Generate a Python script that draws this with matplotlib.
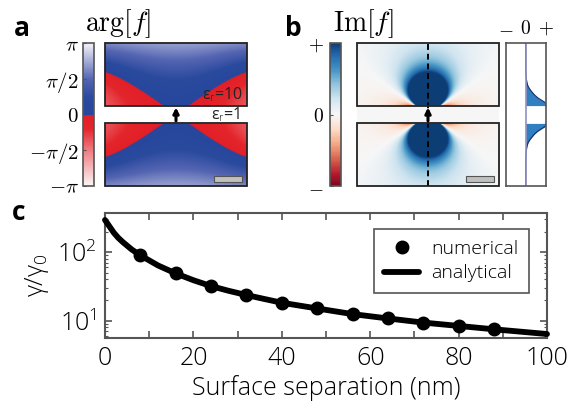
import numpy as np
import matplotlib
matplotlib.use('Agg')
import matplotlib.pyplot as plt
from matplotlib import font_manager
from matplotlib.colors import LinearSegmentedColormap, Normalize
from matplotlib.patches import Rectangle
from matplotlib.ticker import NullFormatter, LogLocator
import matplotlib.cm as cm


def weight_num(w):
    names = {'thin': 100, 'extralight': 200, 'ultralight': 200, 'light': 300,
             'normal': 400, 'regular': 400, 'book': 400}
    return w if isinstance(w, int) else names.get(str(w).lower(), 400)


# pick a sans family that has a light face, if any
light_family = 'Open Sans'
for fam in ['Open Sans', 'Lato', 'Noto Sans', 'Roboto', 'Inter']:
    if any(f.name == fam and 200 <= weight_num(f.weight) <= 300
           for f in font_manager.fontManager.ttflist):
        light_family = fam
        break

plt.rcParams['font.family'] = ['Open Sans', 'DejaVu Sans']
plt.rcParams['mathtext.fontset'] = 'cm'
plt.rcParams['mathtext.rm'] = light_family + ':light'
plt.rcParams['mathtext.it'] = 'Open Sans:italic'
plt.rcParams['mathtext.bf'] = 'Open Sans:bold'

# ---- panel c data ----
sep_num = [8, 16, 24, 32, 40, 48, 56, 64, 72, 80, 88]
gamma_num = [90, 49, 32, 23.7, 18.3, 15.1, 12.5, 10.8, 9.4, 8.4, 7.5]
sep_fit = [0, 1, 2, 3, 4, 6, 8, 12, 16, 20, 24, 28, 32, 36, 40, 48, 56, 64, 72, 80, 88, 100]
gamma_fit = [295, 238, 192, 162, 141, 110, 90, 64, 49, 39, 32, 27.3, 23.7, 20.8, 18.3,
             15.1, 12.5, 10.8, 9.4, 8.4, 7.5, 6.4]

# ---- line profile of Im[f] along the dashed line (upper half, mirrored below) ----
prof_y = [4.0, 2.6, 2.1, 1.8, 1.59, 1.45, 1.31, 1.11, 0.94, 0.81, 0.69, 0.62, 0.5]
prof_v = [0.0, 0.0, 0.02, 0.06, 0.115, 0.19, 0.28, 0.43, 0.6, 0.78, 0.95, 1.0, 1.0]

# ---- field maps: geometry and model parameters ----
gap_half = 0.5
block_w = 3.94
block_h = 4.0
far_c = 0.002
phase_k = 0.036
im_clip = 0.146
neg_scale = 0.3

cb_a_ticks = [-np.pi, -np.pi / 2, 0, np.pi / 2, np.pi]
cb_a_labels = [r'$-\pi$', r'$-\pi/2$', r'$0$', r'$\pi/2$', r'$\pi$']

xs = np.linspace(-block_w, block_w, 500)
ys = np.linspace(-block_h, block_h, 500)
X, Y = np.meshgrid(xs, ys)
R = np.hypot(X, Y)
ang = 3 * Y**2 / R**2 - 1
in_gap = np.abs(Y) < gap_half

im_n = ang + far_c * R**3
phase = np.sign(im_n) * np.pi * (1 - np.exp(-phase_k * R**2 * np.abs(im_n)))
phase = np.ma.masked_where(in_gap, phase)

imf = ang / R**3
imf = np.where(imf < 0, neg_scale * imf, imf)
imf[in_gap] = 0

cmap_a = LinearSegmentedColormap.from_list('argf', [
    (0.0, '#fbf3f3'), (0.25, '#ee7a80'), (0.4, '#e3262c'), (0.4999, '#e21f26'),
    (0.5001, '#27479d'), (0.62, '#2a4a9e'), (0.75, '#5565b2'), (1.0, '#f3f3f9')])
cmap_a.set_bad('white')
cmap_b = LinearSegmentedColormap.from_list(
    'imf', plt.get_cmap('RdBu')(np.linspace(0.03, 0.97, 256)))

W, H = 579, 405
fig = plt.figure(figsize=(W / 100, H / 100), dpi=100)


def box(x0, y0, x1, y1):
    return [x0 / W, 1 - y1 / H, (x1 - x0) / W, (y1 - y0) / H]


def draw_blocks(ax):
    for y0 in (gap_half, -block_h):
        ax.add_patch(Rectangle((-block_w, y0), 2 * block_w, block_h - gap_half,
                               fill=False, ec='#222222', lw=1.3, clip_on=False, zorder=4))
    ax.annotate('', xy=(0, 0.4), xytext=(0, -0.36),
                arrowprops=dict(arrowstyle='-|>', color='k', lw=2.2, mutation_scale=8,
                                shrinkA=0, shrinkB=0))
    ax.add_patch(Rectangle((2.11, -3.82), 1.56, 0.34, fc='#c0c0c0', ec='#555555', lw=0.8, zorder=5))
    ax.set_xlim(-block_w, block_w)
    ax.set_ylim(-block_h, block_h)
    ax.axis('off')


# ---- panel a ----
axa = fig.add_axes(box(105, 43.3, 247, 185.7))
axa.imshow(phase, cmap=cmap_a, vmin=-np.pi, vmax=np.pi, origin='lower', aspect='auto',
           extent=[-block_w, block_w, -block_h, block_h], interpolation='bilinear')
draw_blocks(axa)
axa.text(3.72, 1.12, r'ε$_\mathrm{r}$=10', ha='right', va='center', fontsize=11.5,
         color='#222222', math_fontfamily='custom')
axa.text(3.6, 0.0, r'ε$_\mathrm{r}$=1', ha='right', va='center', fontsize=11.5,
         color='#222222', math_fontfamily='custom')

caxa = fig.add_axes(box(83, 43.3, 94, 185.7))
cba = fig.colorbar(cm.ScalarMappable(norm=Normalize(-np.pi, np.pi), cmap=cmap_a), cax=caxa)
cba.set_ticks(cb_a_ticks)
cba.set_ticklabels(cb_a_labels)
caxa.yaxis.set_ticks_position('left')
caxa.tick_params(length=2.5, direction='in', labelsize=15, pad=3, color='#555555')
cba.outline.set_edgecolor('#555555')
cba.outline.set_linewidth(1.2)

# ---- panel b ----
axb = fig.add_axes(box(357, 43.3, 499, 185.7))
axb.imshow(imf, cmap=cmap_b, vmin=-im_clip, vmax=im_clip, origin='lower', aspect='auto',
           extent=[-block_w, block_w, -block_h, block_h], interpolation='bilinear')
axb.plot([0, 0], [-block_h, block_h], color='k', lw=1.4, dashes=(3, 2), zorder=3)
draw_blocks(axb)

caxb = fig.add_axes(box(329.5, 43.3, 341, 185.7))
cbb = fig.colorbar(cm.ScalarMappable(norm=Normalize(-im_clip, im_clip), cmap=cmap_b), cax=caxb)
cbb.set_ticks([-im_clip, 0, im_clip])
cbb.set_ticklabels([r'$-$', r'$0$', r'$+$'])
caxb.yaxis.set_ticks_position('left')
caxb.tick_params(length=2.5, direction='in', labelsize=14, pad=4, color='#555555')
cbb.outline.set_edgecolor('#555555')
cbb.outline.set_linewidth(1.2)

axp = fig.add_axes(box(505.7, 43.3, 545.7, 185.7))
py = np.array(prof_y)
pv = np.array(prof_v)
for sgn in (1, -1):
    axp.fill_betweenx(sgn * py, 0, pv, color='#2f7fc1', lw=0)
    axp.plot(pv, sgn * py, color='#1b2f6e', lw=0.8)
axp.axvline(0, color='#9090c0', lw=1.2)
axp.set_xlim(-1, 1)
axp.set_ylim(-block_h, block_h)
axp.set_yticks([])
axp.xaxis.set_ticks_position('top')
axp.set_xticks([-1, 0, 1])
axp.set_xticklabels([r'$-$', r'$0$', r'$+$'])
axp.tick_params(length=0, labelsize=14, pad=4)
for s in axp.spines.values():
    s.set_edgecolor('#555555')
    s.set_linewidth(1.2)

fig.text(85 / W, 1 - 31 / H, r'$\arg[f]$', fontsize=20, ha='left', va='baseline')
fig.text(333 / W, 1 - 31 / H, r'$\mathrm{Im}[f]$', fontsize=20, ha='left', va='baseline')

# ---- panel c ----
axc = fig.add_axes(box(105, 213, 547, 338))
axc.plot(sep_fit, gamma_fit, color='k', lw=4.2, solid_capstyle='round', clip_on=False,
         zorder=3, label='analytical')
axc.plot(sep_num, gamma_num, 'o', color='k', ms=9, zorder=4, label='numerical')
axc.set_yscale('log')
axc.set_xlim(0, 100)
axc.set_ylim(5.6, 373)
axc.set_xticks(range(0, 101, 10))
axc.set_xticklabels([str(v) if v % 20 == 0 else '' for v in range(0, 101, 10)])
axc.set_yticks([10, 100])
axc.set_yticklabels([r'10$^{1}$', r'10$^{2}$'])
axc.yaxis.set_minor_locator(LogLocator(base=10, subs=np.arange(2, 10)))
axc.yaxis.set_minor_formatter(NullFormatter())
axc.tick_params(which='both', direction='in', top=True, right=True, color='#555555',
                labelsize=18, pad=6)
axc.tick_params(which='major', length=5, width=1.2)
axc.tick_params(which='minor', length=2.5, width=0.8)
for lbl in axc.get_yticklabels() + axc.get_xticklabels():
    lbl.set_family(light_family)
    lbl.set_fontweight('light')
    lbl.set_math_fontfamily('custom')
for s in axc.spines.values():
    s.set_edgecolor('#555555')
    s.set_linewidth(1.5)
axc.set_xlabel('Surface separation (nm)', fontsize=18, family=light_family,
               fontweight='light', labelpad=3)
axc.set_ylabel(r'γ/γ$_0$', fontsize=18, family=light_family, fontweight='light',
               math_fontfamily='custom', labelpad=4)

h, l = axc.get_legend_handles_labels()
leg = axc.legend(h[::-1], l[::-1], loc='upper right', bbox_to_anchor=(0.959, 0.872),
                 borderaxespad=0, fontsize=14, frameon=True, fancybox=False, framealpha=1,
                 edgecolor='#555555', handlelength=1.8, handletextpad=0.6,
                 borderpad=0.55, labelspacing=0.35)
leg.get_frame().set_linewidth(1.2)
for t in leg.get_texts():
    t.set_family(light_family)
    t.set_fontweight('light')

for lab, x, y in (('a', 14, 36), ('b', 285, 36), ('c', 12, 220)):
    fig.text(x / W, 1 - y / H, lab, fontsize=19, fontweight='bold', ha='left', va='baseline')

fig.savefig('out.png', dpi=100)
